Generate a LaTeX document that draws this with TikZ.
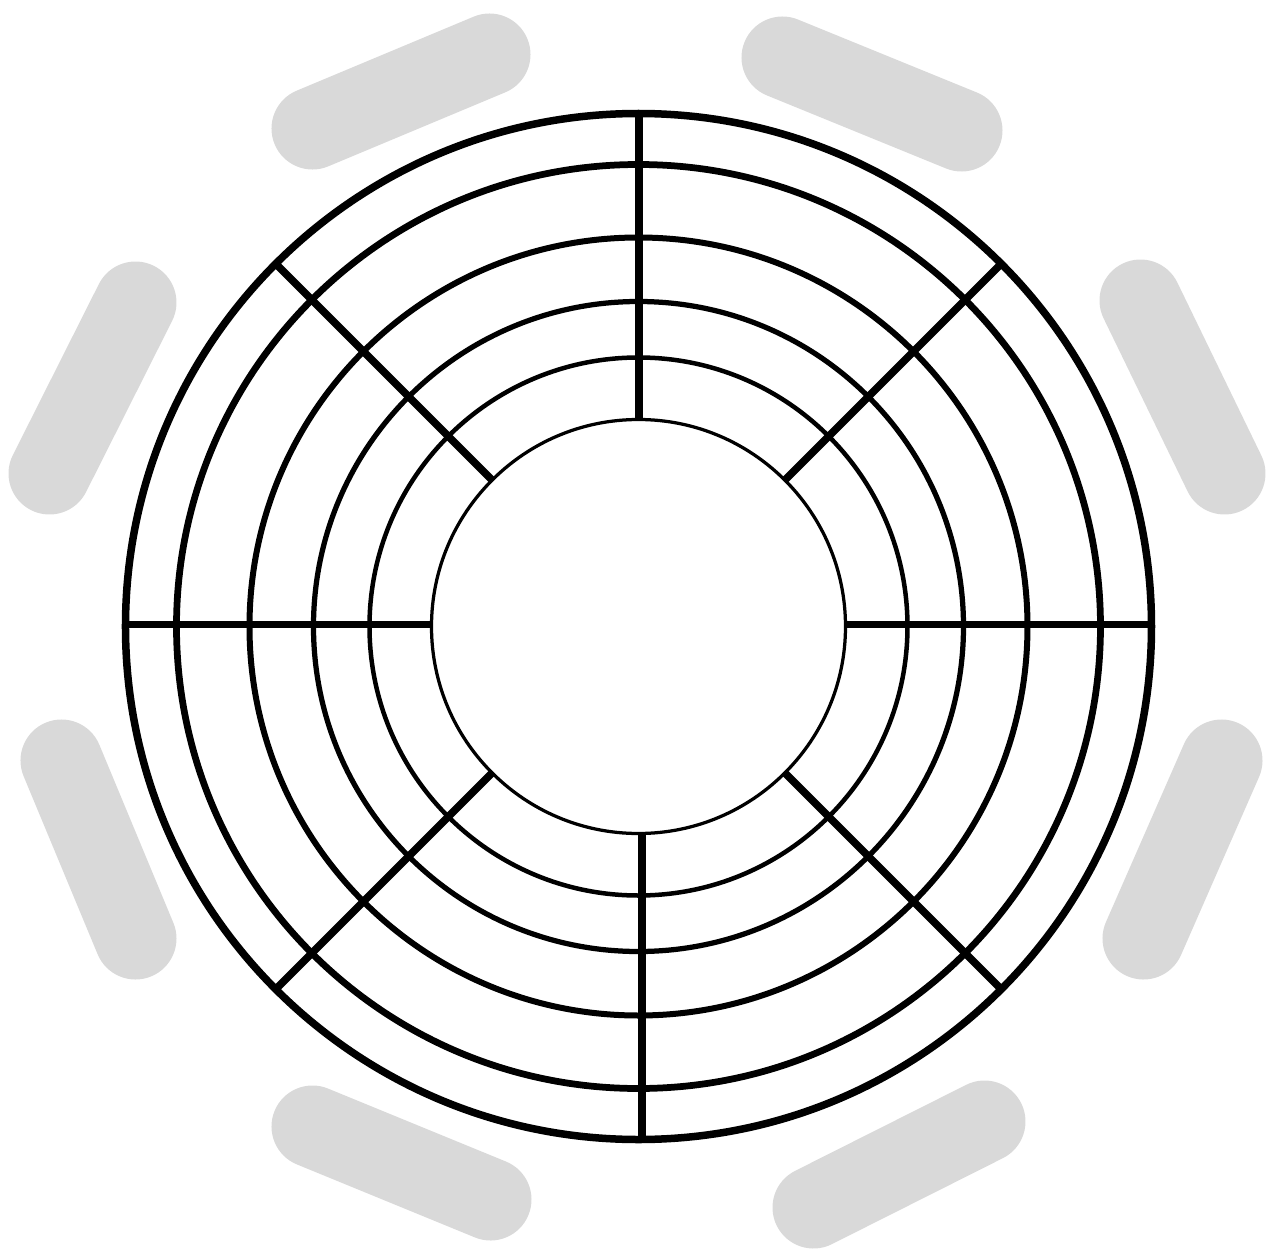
\documentclass[tikz,border=0pt]{standalone}
\usepackage{xcolor}
\usepackage{tikz}
\usetikzlibrary{calc}
\definecolor{padGray}{HTML}{D9D9D9}
\definecolor{ringInk}{HTML}{000000}
\tikzset{
    pad/.style={draw=padGray, line width=16.4mm, line cap=round},
    ring/.style={draw=ringInk},
    spoke/.style={draw=ringInk, line width=1.5mm}
}
\begin{document}
\begin{tikzpicture}[x=0.2mm, y=0.2mm]
\useasboundingbox (-638.5,-624.5) rectangle (634.5,626.5);
\coordinate (c) at (0,0);
% pads round the rim
\draw[pad] (-326,498) -- (-149,572);
\draw[pad] (144,569) -- (323,496);
\draw[pad] (502,326) -- (586,153);
\draw[pad] (583,-134) -- (505,-312);
\draw[pad] (346,-495) -- (175,-581);
\draw[pad] (-326,-500) -- (-148,-573);
\draw[pad] (-577,-134) -- (-503,-312);
\draw[pad] (-503,324) -- (-589,153);
% spokes
\foreach \a in {45,135,225,315}
  \draw[spoke] ($(c)+(\a:207)$) -- ($(c)+(\a:513)$);
\draw[spoke] (0.5,207) -- (0.5,513);
\draw[spoke] (3.5,-207) -- (3.5,-513);
\draw[spoke] (-207,2) -- (-513,2);
\draw[spoke] (207,2) -- (513,2);
% rings
\foreach \r/\w in {513/1.5,462/1.35,389/1.2,325/1.05,269/0.9,207/0.65}
  \draw[ring, line width=\w mm] (c) circle[radius=\r];
\end{tikzpicture}
\end{document}
